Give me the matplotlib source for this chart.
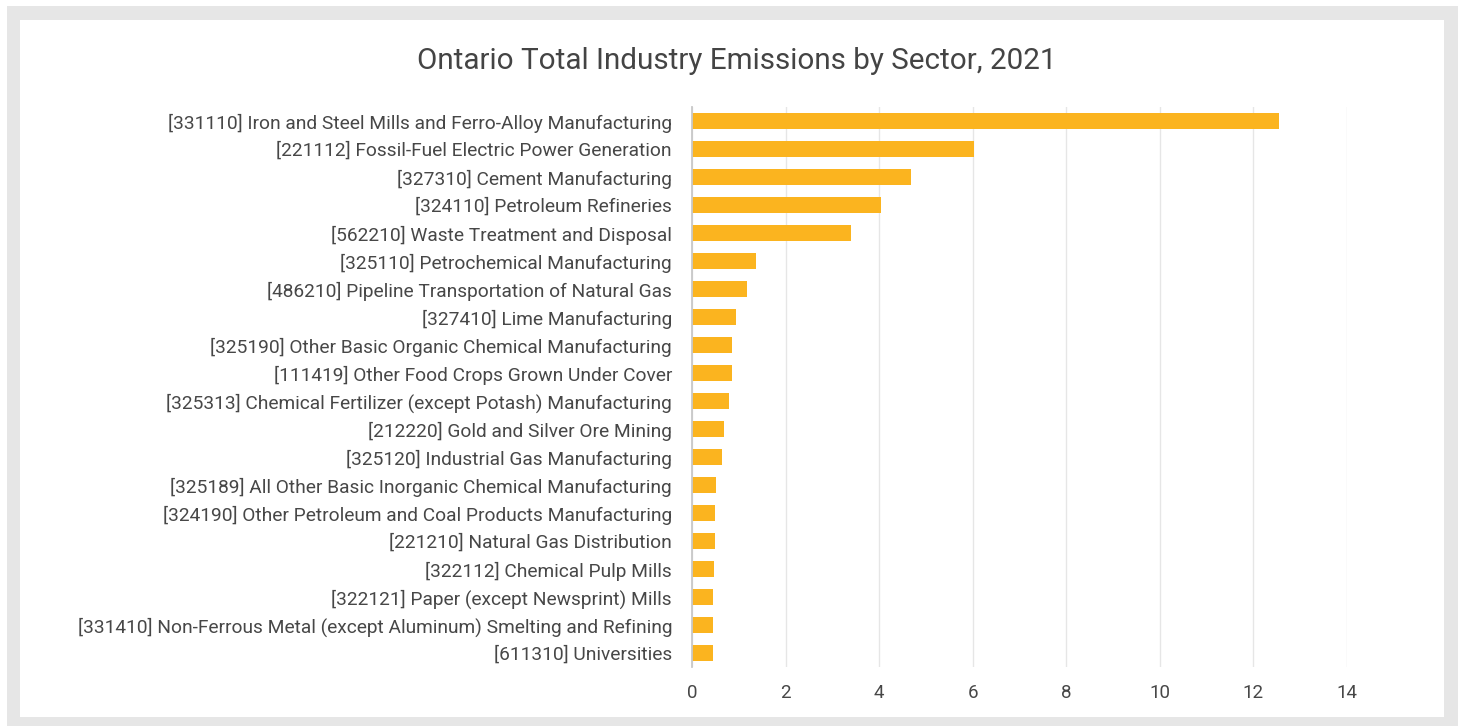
import matplotlib
matplotlib.use("Agg")
import matplotlib.pyplot as plt
from matplotlib.patches import Rectangle

plt.rcParams['font.family'] = ['Roboto', 'DejaVu Sans']

sectors = [
    "[331110] Iron and Steel Mills and Ferro-Alloy Manufacturing",
    "[221112] Fossil-Fuel Electric Power Generation",
    "[327310] Cement Manufacturing",
    "[324110] Petroleum Refineries",
    "[562210] Waste Treatment and Disposal",
    "[325110] Petrochemical Manufacturing",
    "[486210] Pipeline Transportation of Natural Gas",
    "[327410] Lime Manufacturing",
    "[325190] Other Basic Organic Chemical Manufacturing",
    "[111419] Other Food Crops Grown Under Cover",
    "[325313] Chemical Fertilizer (except Potash) Manufacturing",
    "[212220] Gold and Silver Ore Mining",
    "[325120] Industrial Gas Manufacturing",
    "[325189] All Other Basic Inorganic Chemical Manufacturing",
    "[324190] Other Petroleum and Coal Products Manufacturing",
    "[221210] Natural Gas Distribution",
    "[322112] Chemical Pulp Mills",
    "[322121] Paper (except Newsprint) Mills",
    "[331410] Non-Ferrous Metal (except Aluminum) Smelting and Refining",
    "[611310] Universities",
]
emissions = [12.54, 6.03, 4.68, 4.03, 3.39, 1.37, 1.18, 0.95, 0.85, 0.85,
             0.80, 0.69, 0.65, 0.52, 0.50, 0.49, 0.48, 0.45, 0.44, 0.44]
x_ticks = [0, 2, 4, 6, 8, 10, 12, 14]
title = "Ontario Total Industry Emissions by Sector, 2021"

W, H = 1465, 726
fig = plt.figure(figsize=(W / 100, H / 100), dpi=100)
fig.patch.set_facecolor("white")

# grey frame around the white card
fig.patches.append(Rectangle((7 / W, 0), (1458 - 7) / W, (H - 6) / H,
                             transform=fig.transFigure, facecolor="#e6e6e6",
                             edgecolor="none", zorder=-10))
fig.patches.append(Rectangle((20 / W, (H - 717) / H), (1444 - 20) / W, (717 - 20) / H,
                             transform=fig.transFigure, facecolor="white",
                             edgecolor="none", zorder=-9))

ax = fig.add_axes([692 / W, 1 - 667 / H, (1347 - 692) / W, (667 - 107) / H])
ax.set_facecolor("none")
ax.set_zorder(1)

y = list(range(len(sectors)))
ax.barh(y, emissions, height=0.6, color="#fbb41f", zorder=3)
ax.set_ylim(len(sectors) - 0.5, -0.5)
ax.set_xlim(0, 14)

ax.set_yticks(y)
ax.set_yticklabels(sectors, fontsize=13.8, color="#474747")
ax.set_xticks(x_ticks)
ax.set_xticklabels([str(t) for t in x_ticks], fontsize=13.5, color="#474747")
ax.tick_params(axis="y", length=0, pad=14.4)
ax.tick_params(axis="x", length=0, pad=12.5)

ax.grid(axis="x", color="#e6e6e6", linewidth=1.0, zorder=0)
for s in ["top", "right", "bottom"]:
    ax.spines[s].set_visible(False)
ax.spines["left"].set_color("#c8c8c8")
ax.spines["left"].set_linewidth(1.3)
ax.spines["left"].set_zorder(4)

fig.text(737 / W, 1 - 61 / H, title, ha="center", va="center",
         fontsize=21.3, color="#444444")

fig.savefig("out.png", dpi=100, facecolor=fig.get_facecolor())
